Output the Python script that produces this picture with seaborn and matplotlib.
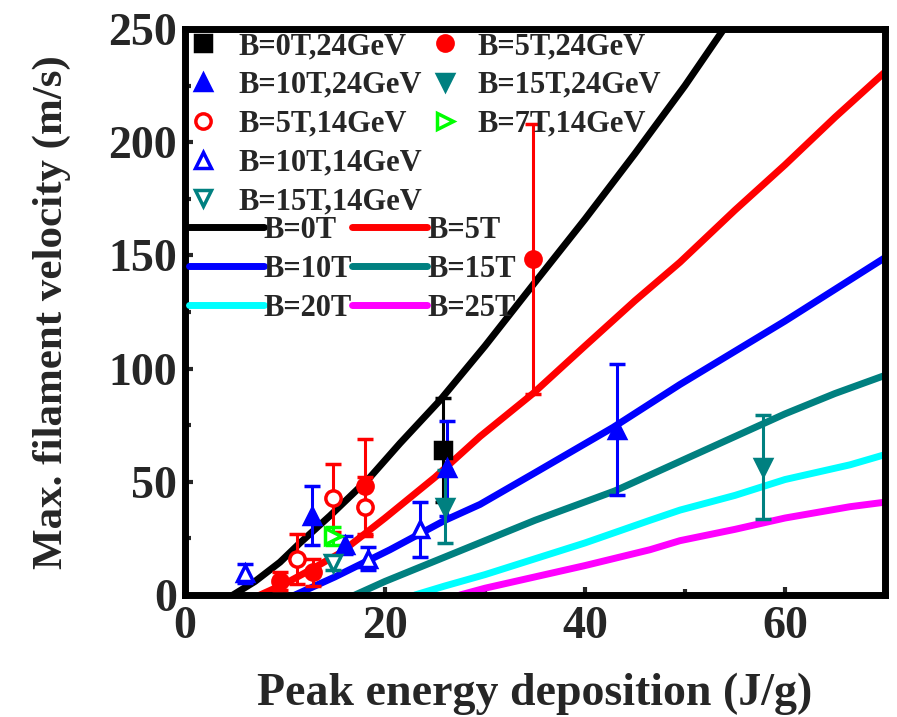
import matplotlib
matplotlib.use("Agg")
import matplotlib.pyplot as plt
import numpy as np
import pandas as pd
import seaborn as sns
from matplotlib.lines import Line2D
from matplotlib.ticker import MultipleLocator

# ---------------- data ----------------
b0_x = [4.8, 7, 9.5, 11.5, 14.5, 18.5, 21.5, 25.5, 30, 34.8, 40, 45, 50, 54.5]
b0_y = [0, 6, 14.5, 23, 35, 52, 67, 86, 110, 137, 166, 195, 225, 254]
b5_x = [7.5, 10, 12.5, 15.5, 20, 25, 29.5, 34.8, 40, 45, 49.5, 55, 60, 65, 70]
b5_y = [0, 5, 11, 18.5, 34, 52, 70, 89, 110, 130, 147, 170, 190, 211, 231]
b10_x = [11, 15, 20.5, 26, 29.5, 35, 42.8, 49.5, 60, 70]
b10_y = [0, 8, 20, 33, 40, 54, 74, 93, 121, 149]
b15_x = [17, 20, 25, 30, 35, 43, 50, 55, 60, 65, 70]
b15_y = [0, 6, 15, 24, 33, 46, 60, 70, 80, 89, 97]
b20_x = [23, 26, 30, 35, 40, 46.5, 49.5, 55, 60, 66.5, 70]
b20_y = [0, 4, 9, 16, 23, 33, 37.5, 44, 51, 57.5, 62]
b25_x = [27.5, 30, 35, 40, 46.5, 49.5, 55, 60, 66.5, 70]
b25_y = [0, 3, 8, 13, 20, 24, 29, 34, 39, 41]

curve_labels = ["B=0T", "B=5T", "B=10T", "B=15T", "B=20T", "B=25T"]
curve_colors = ["#000000", "#FF0000", "#0000FF", "#008080", "#00FFFF", "#FF00FF"]

# measured points: x, y, error
p0_24_x, p0_24_y, p0_24_e = [25.8], [64], [23]
p5_24_x, p5_24_y, p5_24_e = [9.5, 12.8, 18.0, 34.8], [6, 10, 48, 148.5], [4, 6, 21, 59.5]
p10_24_x, p10_24_y, p10_24_e = [12.7, 16.0, 26.2, 43.2], [35, 22, 56, 73], [13, 4, 21, 29]
p15_24_x, p15_24_y, p15_24_e = [26.0, 57.8], [39, 56.5], [16, 23]
p5_14_x, p5_14_y, p5_14_e = [11.2, 14.8, 18.0], [16, 43, 39], [11, 15, 13]
p7_14_x, p7_14_y, p7_14_e = [14.8], [26], [4]
p10_14_x, p10_14_y, p10_14_e = [6.0, 18.3, 23.5], [9.5, 16, 29], [4, 5, 12]
p15_14_x, p15_14_y, p15_14_e = [14.8], [14], [3]

x_ticks = [0, 20, 40, 60]
y_ticks = [0, 50, 100, 150, 200, 250]

# ---------------- style ----------------
sns.set_theme(style="white")
plt.rcParams["font.family"] = ["Liberation Serif", "DejaVu Serif"]
plt.rcParams["font.weight"] = "bold"
plt.rcParams["axes.labelweight"] = "bold"

W, H = 897, 717
fig = plt.figure(figsize=(W / 100, H / 100), dpi=100)
ax = fig.add_axes([185 / W, 1 - 595 / H, 700 / W, 566 / H])

# curves via seaborn
frames = []
for lab, xs, ys in zip(curve_labels,
                       [b0_x, b5_x, b10_x, b15_x, b20_x, b25_x],
                       [b0_y, b5_y, b10_y, b15_y, b20_y, b25_y]):
    frames.append(pd.DataFrame({"x": xs, "y": ys, "B": lab}))
df = pd.concat(frames, ignore_index=True)
sns.lineplot(data=df, x="x", y="y", hue="B", hue_order=curve_labels,
             palette=curve_colors, linewidth=5, legend=False, ax=ax,
             sort=False, estimator=None, zorder=2)

ms = 11
common = dict(capsize=5.5, elinewidth=2.2, capthick=2.5, linestyle="none",
              markersize=ms, zorder=3)
series = [
    (p0_24_x, p0_24_y, p0_24_e, "s", "#000000", True, "B=0T,24GeV"),
    (p5_24_x, p5_24_y, p5_24_e, "o", "#FF0000", True, "B=5T,24GeV"),
    (p10_24_x, p10_24_y, p10_24_e, "^", "#0000FF", True, "B=10T,24GeV"),
    (p15_24_x, p15_24_y, p15_24_e, "v", "#008080", True, "B=15T,24GeV"),
    (p5_14_x, p5_14_y, p5_14_e, "o", "#FF0000", False, "B=5T,14GeV"),
    (p7_14_x, p7_14_y, p7_14_e, ">", "#00FF00", False, "B=7T,14GeV"),
    (p10_14_x, p10_14_y, p10_14_e, "^", "#0000FF", False, "B=10T,14GeV"),
    (p15_14_x, p15_14_y, p15_14_e, "v", "#008080", False, "B=15T,14GeV"),
]
handles = {}
for xs, ys, es, mk, col, filled, lab in series:
    ax.errorbar(xs, ys, yerr=es, marker=mk, color=col, ecolor=col,
                mfc=col if filled else "white", mec=col, mew=2.5, **common)
    handles[lab] = Line2D([], [], linestyle="none", marker=mk, color=col,
                          mfc=col if filled else "white", mec=col, mew=2.5,
                          markersize=ms)

ax.set_xlim(0, 70)
ax.set_ylim(0, 250)
ax.set_xticks(x_ticks)
ax.set_yticks(y_ticks)
ax.xaxis.set_minor_locator(MultipleLocator(10))
ax.yaxis.set_minor_locator(MultipleLocator(25))
ax.tick_params(which="major", direction="in", length=6, width=3,
               labelsize=33, pad=8)
ax.tick_params(which="minor", direction="in", length=4, width=3)
ax.tick_params(axis="y", which="major", pad=6)
ax.tick_params(bottom=True, left=True, top=False, right=False, which="both")
for s in ax.spines.values():
    s.set_linewidth(5)
    s.set_color("black")
ax.set_xlabel("Peak energy deposition (J/g)", fontsize=33, fontweight="bold")
ax.set_ylabel("Max. filament velocity (m/s)", fontsize=31, fontweight="bold")
ax.xaxis.set_label_coords(0.5, -0.137)
ax.yaxis.set_label_coords(-0.163, 0.5)

def fpos(px, py):
    return (px / W, 1 - py / H)

legfs = 22
lkw = dict(frameon=False, borderpad=0, borderaxespad=0,
           loc="upper left", bbox_transform=fig.transFigure,
           prop={"weight": "bold", "size": legfs})

leg1 = ax.legend([handles[k] for k in ["B=0T,24GeV", "B=10T,24GeV", "B=5T,14GeV",
                                       "B=10T,14GeV", "B=15T,14GeV"]],
                 ["B=0T,24GeV", "B=10T,24GeV", "B=5T,14GeV", "B=10T,14GeV", "B=15T,14GeV"],
                 bbox_to_anchor=fpos(188, 32), handlelength=1.0,
                 handletextpad=0.65, labelspacing=0.32, **lkw)
ax.add_artist(leg1)
leg2 = ax.legend([handles[k] for k in ["B=5T,24GeV", "B=15T,24GeV", "B=7T,14GeV"]],
                 ["B=5T,24GeV", "B=15T,24GeV", "B=7T,14GeV"],
                 bbox_to_anchor=fpos(430, 32), handlelength=1.0,
                 handletextpad=0.55, labelspacing=0.32, **lkw)
ax.add_artist(leg2)

line_order = [0, 2, 4, 1, 3, 5]
lh = [Line2D([], [], color=curve_colors[i], linewidth=5) for i in line_order]
ll = [curve_labels[i] for i in line_order]
leg3 = ax.legend(lh, ll, ncol=2, bbox_to_anchor=fpos(189, 216),
                 handlelength=2.45, handletextpad=0.0, columnspacing=0.0,
                 labelspacing=0.32, **lkw)

fig.savefig("out.png", dpi=100)
